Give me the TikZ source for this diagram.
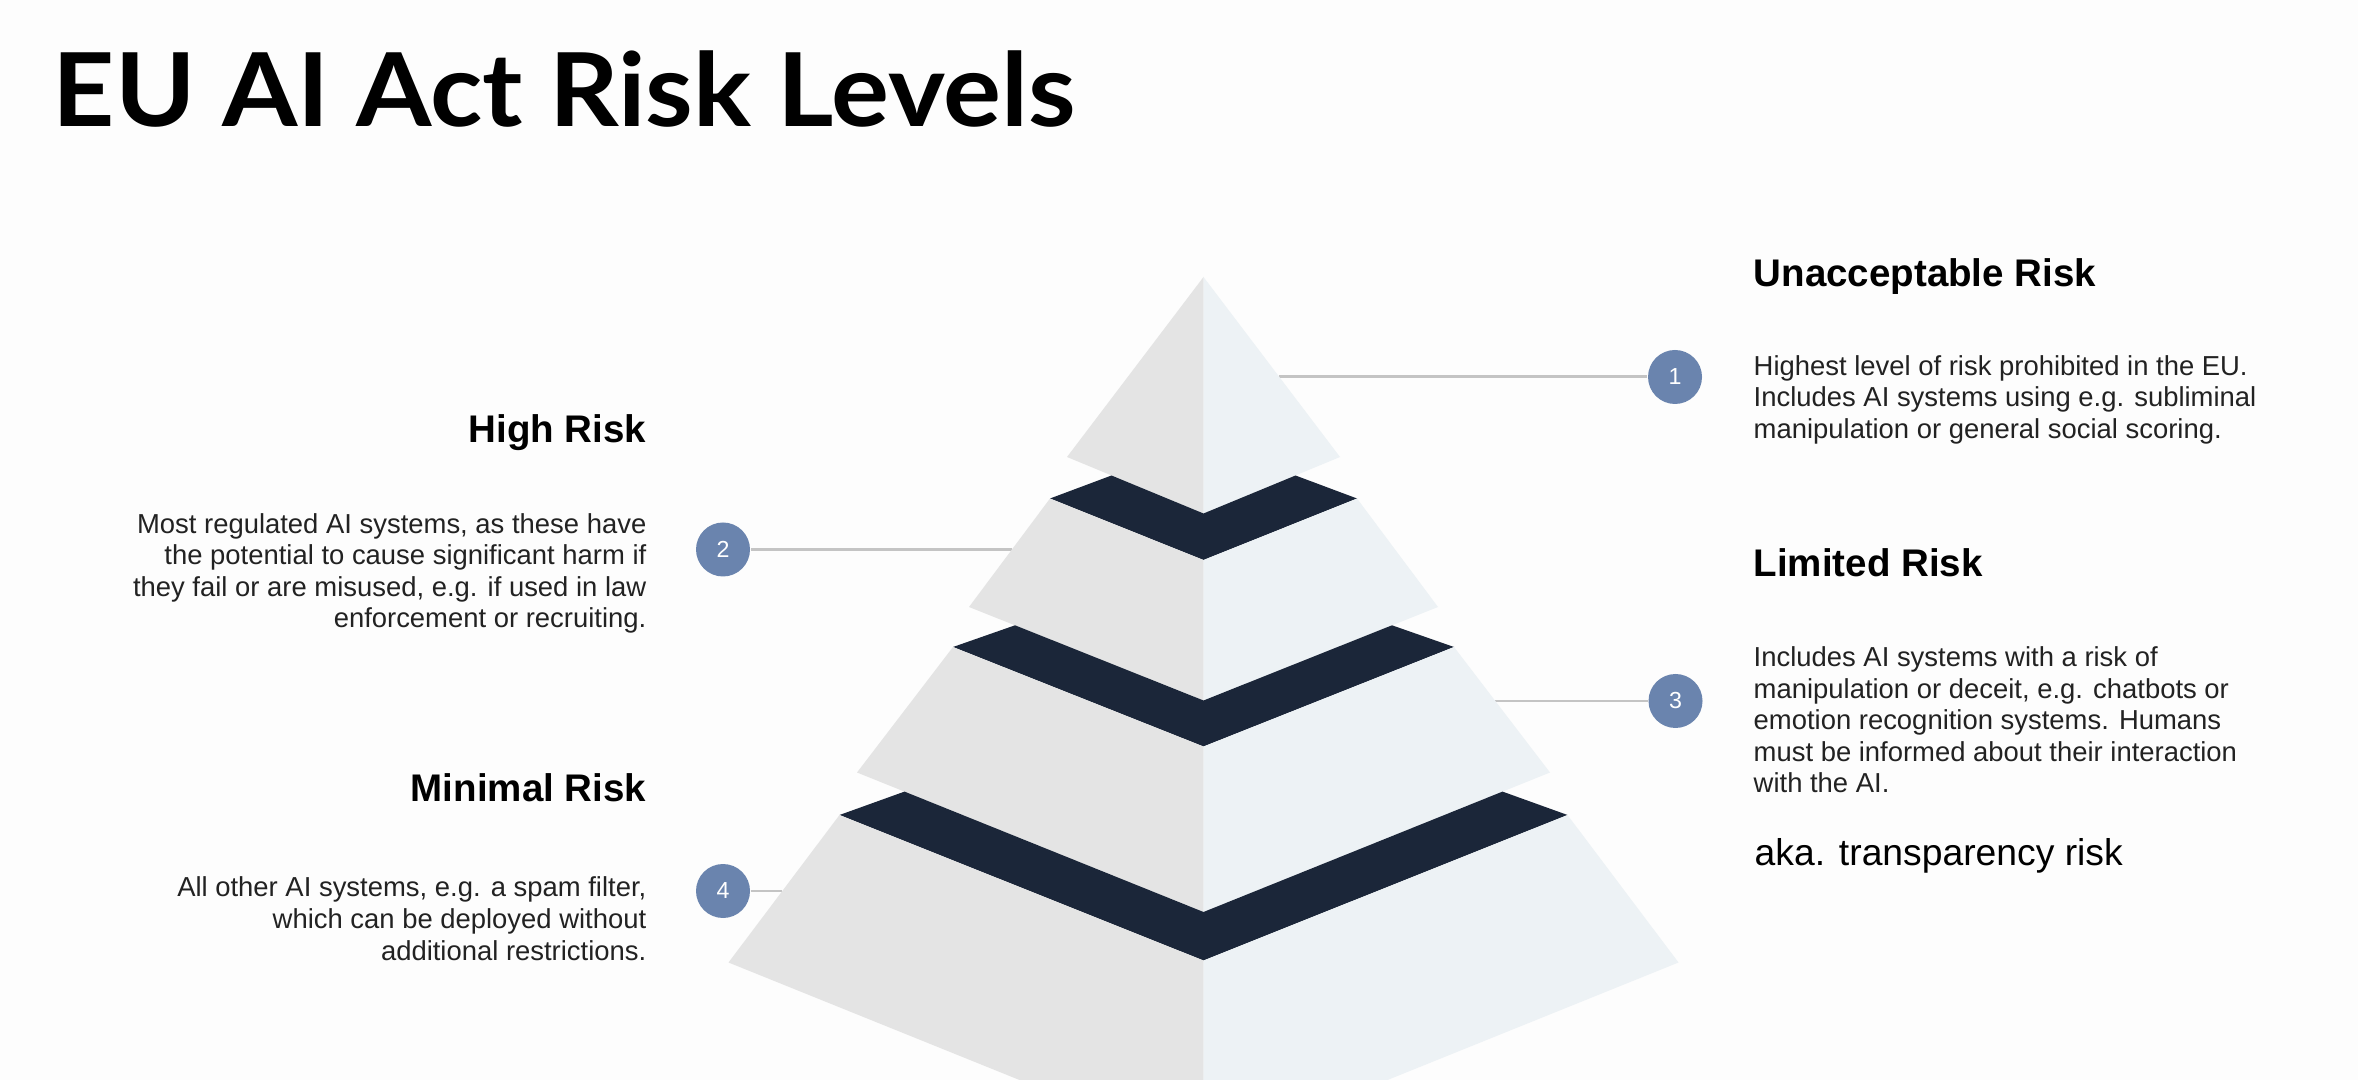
\documentclass[tikz,border=0pt]{standalone}
\usepackage{fontspec}
\setmainfont{Liberation Sans}
\newfontfamily\titlefont{Lato}
\definecolor{bgc}{HTML}{FDFDFD}
\definecolor{leftc}{HTML}{E4E4E4}
\definecolor{rightc}{HTML}{EDF2F5}
\definecolor{bandc}{HTML}{1B2639}
\definecolor{circc}{HTML}{6A84AE}
\definecolor{linec}{HTML}{C4C4C4}
\definecolor{bodyc}{HTML}{222222}
\tikzset{
  lefthalf/.style={fill=leftc, draw=none},
  righthalf/.style={fill=rightc, draw=none},
  band/.style={fill=bandc, draw=none},
  numcirc/.style={circle, fill=circc, draw=none, minimum size=54*0.01cm, inner sep=0pt,
    text=white, font=\fontsize{6.6pt}{7pt}\selectfont},
  connector/.style={draw=linec, line width=0.85pt},
  heading/.style={inner sep=0pt, font=\fontsize{10.95pt}{12pt}\selectfont\bfseries, text=black},
  bodyR/.style={inner sep=0pt, align=left, text=bodyc, font=\fontsize{7.8pt}{9.0pt}\selectfont},
  bodyL/.style={inner sep=0pt, align=right, text=bodyc, font=\fontsize{7.8pt}{9.0pt}\selectfont},
}
\begin{document}
\begin{tikzpicture}[x=0.01cm, y=-0.01cm]
\useasboundingbox (0,0) rectangle (2358,1080);
\fill[bgc] (0,0) rectangle (2358,1080);

% title
\node[inner sep=0pt, anchor=base west, font=\titlefont\fontsize{29pt}{32pt}\selectfont\bfseries] (title) at (52,127) {\scalebox{1.064}[1]{EU AI Act Risk Levels}};

% pyramid edge points for connectors
\coordinate (e1) at (1279,377);
\coordinate (e2) at (1012,549.5);
\coordinate (e3) at (1495,701);
\coordinate (e4) at (782,891);

% circles
\node[numcirc] (c1) at (1675,377) {1};
\node[numcirc] (c2) at (723,549.5) {2};
\node[numcirc] (c3) at (1675.5,701) {3};
\node[numcirc] (c4) at (723,891) {4};

% connectors
\draw[connector] (c1) -- (e1);
\draw[connector] (c2) -- (e2);
\draw[connector] (c3) -- (e3);
\draw[connector] (c4) -- (e4);

% tier 1
\path[lefthalf] (1203.5,277) -- (1067,457) -- (1203.5,513.5) -- cycle;
\path[righthalf] (1203.5,277) -- (1340,457) -- (1203.5,513.5) -- cycle;
% band 1
\path[band] (1050,498.5) -- (1111.5,475.5) -- (1203.5,513.5) -- (1295.5,475.5) -- (1357,498.5) -- (1203.5,560) -- cycle;
% tier 2
\path[lefthalf] (1050,498.5) -- (1203.5,560) -- (1203.5,700.5) -- (969,607) -- cycle;
\path[righthalf] (1357,498.5) -- (1203.5,560) -- (1203.5,700.5) -- (1438,607) -- cycle;
% band 2
\path[band] (953,647) -- (1015,625.3) -- (1203.5,700.5) -- (1392,625.3) -- (1454,647) -- (1203.5,746.5) -- cycle;
% tier 3
\path[lefthalf] (953,647) -- (1203.5,746.5) -- (1203.5,912) -- (857,772.5) -- cycle;
\path[righthalf] (1454,647) -- (1203.5,746.5) -- (1203.5,912) -- (1550,772.5) -- cycle;
% band 3
\path[band] (839.5,815) -- (904.5,791.6) -- (1203.5,912) -- (1502.5,791.6) -- (1567.5,815) -- (1203.5,960.5) -- cycle;
% tier 4
\path[lefthalf] (839.5,815) -- (1203.5,960.5) -- (1203.5,1080) -- (1019.5,1080) -- (728.5,962.5) -- cycle;
\path[righthalf] (1567.5,815) -- (1203.5,960.5) -- (1203.5,1080) -- (1387.5,1080) -- (1678.5,962.5) -- cycle;

% right texts (base anchor = baseline of last line)
\node[heading, anchor=base west] (h1) at (1753,287) {Unacceptable Risk};
\node[bodyR, anchor=base west] (b1) at (1753,438.5) {Highest level of risk prohibited in the EU.\\Includes AI systems using e.g. subliminal\\manipulation or general social scoring.};
\node[heading, anchor=base west] (h3) at (1753,577) {Limited Risk};
\node[bodyR, anchor=base west] (b3) at (1753,793) {Includes AI systems with a risk of\\manipulation or deceit, e.g. chatbots or\\emotion recognition systems. Humans\\must be informed about their interaction\\with the AI.};
\node[inner sep=0pt, anchor=base west, font=\fontsize{10.6pt}{12pt}\selectfont] (aka) at (1754,865) {aka. transparency risk};

% left texts
\node[heading, anchor=base east] (h2) at (647,443) {High Risk};
\node[bodyL, anchor=base east] (b2) at (647,628) {Most regulated AI systems, as these have\\the potential to cause significant harm if\\they fail or are misused, e.g. if used in law\\enforcement or recruiting.};
\node[heading, anchor=base east] (h4) at (647,802) {Minimal Risk};
\node[bodyL, anchor=base east] (b4) at (647,960) {All other AI systems, e.g. a spam filter,\\which can be deployed without\\additional restrictions.};
\end{tikzpicture}
\end{document}
